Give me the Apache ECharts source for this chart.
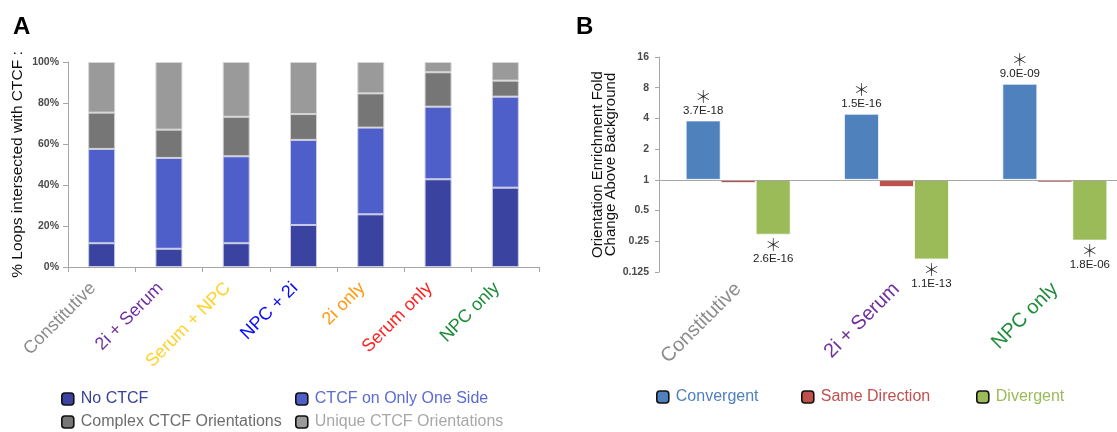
<!DOCTYPE html>
<html>
<head>
<meta charset="utf-8">
<script src="https://cdn.jsdelivr.net/npm/echarts@6/dist/echarts.min.js"></script>
<style>
  html, body { margin: 0; padding: 0; background: #fff; }
  #chart { width: 1117px; height: 432px; }
</style>
</head>
<body>
<div id="chart"></div>
<script>
// ---- Panel A: CTCF status of loops, % of loops per class ----
const loopClasses = ['Constitutive', '2i + Serum', 'Serum + NPC', 'NPC + 2i', '2i only', 'Serum only', 'NPC only'];
const loopClassColors = ['#8c8c8c', '#7030a0', '#ffd22a', '#0a0aff', '#ff9a10', '#ff2222', '#1f8b3b'];
const noCtcf          = [11.6,  8.9, 11.6, 20.5, 25.7, 42.8, 38.7];
const ctcfOneSide     = [46.0, 44.3, 42.4, 41.5, 42.3, 35.4, 44.4];
const complexOrient   = [17.7, 13.8, 19.3, 12.6, 16.7, 16.8,  7.8];
const uniqueOrient    = [24.7, 33.0, 26.7, 25.4, 15.3,  5.0,  9.1];
const percentTicks    = [0, 20, 40, 60, 80, 100];

// ---- Panel B: orientation enrichment (fold change vs background, log2 axis) ----
const orientClasses = ['Constitutive', '2i + Serum', 'NPC only'];
const orientClassColors = ['#8c8c8c', '#7030a0', '#1f8b3b'];
const convergent    = [3.82, 4.44, 8.74];
const sameDirection = [0.93, 0.85, 0.94];
const divergent     = [0.29, 0.166, 0.254];
const convergentP   = ['3.7E-18', '1.5E-16', '9.0E-09'];
const divergentP    = ['2.6E-16', '1.1E-13', '1.8E-06'];
const foldRange     = [0.125, 16];

const FONT = 'Liberation Sans, Arial, sans-serif';

const chart = echarts.init(document.getElementById('chart'), null, { renderer: 'canvas' });

function stackA(name, values, color, border) {
  return {
    name, type: 'bar', stack: 'loops', xAxisIndex: 0, yAxisIndex: 0,
    barWidth: 27, data: values,
    itemStyle: { color, borderColor: border, borderWidth: 1 },
    emphasis: { disabled: true }
  };
}

const sigLabelRich = {
  s: { fontSize: 17, lineHeight: 16, fontFamily: 'Noto Sans CJK JP', fontWeight: 300, color: '#222' },
  p: { fontSize: 11.5, lineHeight: 13, fontFamily: FONT, color: '#222' }
};

function legendItem(name, color, left, top) {
  return {
    left, top, padding: 0, orient: 'horizontal', selectedMode: false,
    itemWidth: 12, itemHeight: 12, itemGap: 0,
    data: [{ name, textStyle: { color } }],
    itemStyle: { borderColor: '#111', borderWidth: 1.6 },
    textStyle: { fontFamily: FONT, fontSize: 16, padding: [0, 0, 0, 2] }
  };
}

const option = {
  animation: false,
  backgroundColor: '#fff',
  title: [
    { text: 'A', left: 8, top: 10, textStyle: { fontFamily: FONT, fontSize: 24, fontWeight: 'bold', color: '#000' } },
    { text: 'B', left: 571, top: 10, textStyle: { fontFamily: FONT, fontSize: 24, fontWeight: 'bold', color: '#000' } }
  ],
  legend: [
    legendItem('No CTCF', '#38429a', 61, 391),
    legendItem('CTCF on Only One Side', '#5b6bd0', 295, 391),
    legendItem('Complex CTCF Orientations', '#6d6d6d', 61, 414),
    legendItem('Unique CTCF Orientations', '#a8a8a8', 295, 414),
    legendItem('Convergent', '#4f81bd', 656, 389),
    legendItem('Same Direction', '#c0504d', 801, 389),
    legendItem('Divergent', '#9bbb59', 976, 389)
  ],
  grid: [
    { left: 68, top: 62, width: 471, height: 205, outerBoundsMode: 'none' },
    { left: 659, top: 57, width: 475, height: 215, outerBoundsMode: 'none' }
  ],
  xAxis: [
    {
      type: 'category', gridIndex: 0,
      data: loopClasses.map((c, i) => ({ value: c, textStyle: { color: loopClassColors[i] } })),
      axisLine: { lineStyle: { color: '#a6a6a6', width: 1 } },
      axisTick: { show: true, length: 5, lineStyle: { color: '#a6a6a6' } },
      axisLabel: { rotate: 45, margin: 10, padding: [0, 12, 0, 0], fontFamily: FONT, fontSize: 18, interval: 0 }
    },
    {
      type: 'category', gridIndex: 1,
      data: orientClasses.map((c, i) => ({ value: c, textStyle: { color: orientClassColors[i] } })),
      axisLine: { show: false },
      axisTick: { show: false },
      axisLabel: { rotate: 45, margin: 14, fontFamily: FONT, fontSize: 20, interval: 0 }
    }
  ],
  yAxis: [
    {
      type: 'value', gridIndex: 0, min: percentTicks[0], max: percentTicks[percentTicks.length - 1], interval: 20,
      name: '% Loops intersected with CTCF :', nameLocation: 'middle', nameGap: 42, nameRotate: 90,
      nameTextStyle: { fontFamily: FONT, fontSize: 15.5, color: '#111' },
      axisLine: { show: true, lineStyle: { color: '#a6a6a6' } },
      axisTick: { show: true, length: 5, lineStyle: { color: '#a6a6a6' } },
      splitLine: { show: false },
      axisLabel: { formatter: '{value}%', margin: 9, fontFamily: FONT, fontSize: 10.5, fontWeight: 'bold', color: '#4a4a4a' }
    },
    {
      type: 'log', logBase: 2, gridIndex: 1, min: foldRange[0], max: foldRange[1], splitNumber: 7,
      name: 'Orientation Enrichment Fold\nChange Above Background', nameLocation: 'middle', nameGap: 42, nameRotate: 90,
      nameTextStyle: { fontFamily: FONT, fontSize: 15, lineHeight: 13, color: '#111' },
      axisLine: { show: true, lineStyle: { color: '#a6a6a6' } },
      axisTick: { show: true, length: 4, lineStyle: { color: '#a6a6a6' } },
      splitLine: { show: false },
      axisLabel: {
        formatter: v => String(+Number(v).toPrecision(6)),
        margin: 10, fontFamily: FONT, fontSize: 10.5, fontWeight: 'bold', color: '#4a4a4a'
      }
    }
  ],
  series: [
    stackA('No CTCF', noCtcf, '#3a44a0', '#c9cbe6'),
    stackA('CTCF on Only One Side', ctcfOneSide, '#4f5fca', '#c9cbe6'),
    stackA('Complex CTCF Orientations', complexOrient, '#767676', '#d2d2d2'),
    stackA('Unique CTCF Orientations', uniqueOrient, '#9a9a9a', '#d6d6d6'),
    {
      name: 'Convergent', type: 'bar', xAxisIndex: 1, yAxisIndex: 1,
      barWidth: 35, barGap: 0,
      data: convergent,
      itemStyle: { color: '#4f81bd', borderColor: 'rgba(255,255,255,0.7)', borderWidth: 1 },
      label: {
        show: true, position: 'top', distance: 3,
        formatter: p => '{s|\uff0a}\n{p|' + convergentP[p.dataIndex] + '}',
        rich: sigLabelRich
      },
      // baseline at fold change 1
      markLine: {
        silent: true, symbol: 'none', label: { show: false },
        lineStyle: { color: '#a6a6a6', width: 1, type: 'solid' },
        data: [{ yAxis: 1 }]
      },
      emphasis: { disabled: true }
    },
    {
      name: 'Same Direction', type: 'bar', xAxisIndex: 1, yAxisIndex: 1,
      barWidth: 35, barGap: 0,
      data: sameDirection,
      itemStyle: { color: '#c0504d', borderColor: 'rgba(255,255,255,0.7)', borderWidth: 1 },
      emphasis: { disabled: true }
    },
    {
      name: 'Divergent', type: 'bar', xAxisIndex: 1, yAxisIndex: 1,
      barWidth: 35, barGap: 0,
      data: divergent,
      itemStyle: { color: '#9bbb59', borderColor: 'rgba(255,255,255,0.7)', borderWidth: 1 },
      label: {
        show: true, position: 'bottom', distance: 2,
        formatter: p => '{s|\uff0a}\n{p|' + divergentP[p.dataIndex] + '}',
        rich: sigLabelRich
      },
      emphasis: { disabled: true }
    }
  ]
};

chart.setOption(option);
</script>
</body>
</html>
